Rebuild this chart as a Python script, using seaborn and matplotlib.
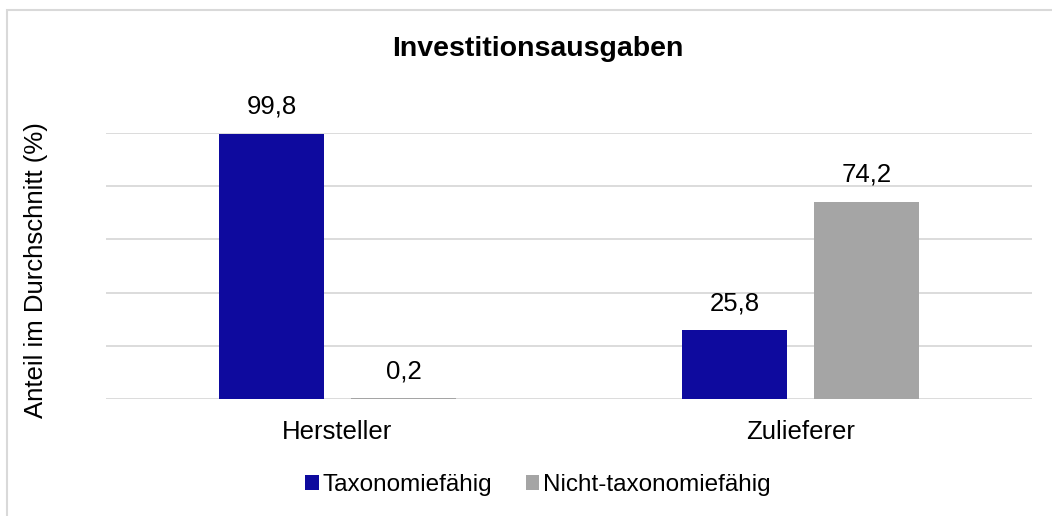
import pandas as pd
import seaborn as sns
import matplotlib.pyplot as plt
from matplotlib.patches import Rectangle

# Daten
gruppen = ["Hersteller", "Hersteller", "Zulieferer", "Zulieferer"]
kategorien = ["Taxonomiefähig", "Nicht-taxonomiefähig", "Taxonomiefähig", "Nicht-taxonomiefähig"]
anteile = [99.8, 0.2, 25.8, 74.2]
farben = {"Taxonomiefähig": "#0E0A9E", "Nicht-taxonomiefähig": "#A5A5A5"}

df = pd.DataFrame({"Gruppe": gruppen, "Kategorie": kategorien, "Anteil": anteile})

sns.set_style("white")
plt.rcParams['font.family'] = ['Liberation Sans', 'DejaVu Sans']
plt.rcParams['text.color'] = 'black'
plt.rcParams['axes.labelcolor'] = 'black'
plt.rcParams['xtick.color'] = 'black'

fig = plt.figure(figsize=(10.52, 5.16), dpi=100)
ax = fig.add_axes([106 / 1052, 117 / 516, 926 / 1052, 266 / 516])

sns.barplot(data=df, x="Gruppe", y="Anteil", hue="Kategorie", palette=farben,
            width=0.57, gap=0.2, saturation=1, linewidth=0, ax=ax, legend=True)

# Werte mit Dezimalkomma
for cont in ax.containers:
    labels = [f"{b.get_height():.1f}".replace(".", ",") for b in cont]
    ax.bar_label(cont, labels=labels, padding=11, fontsize=18.5, color="black")

ax.set_ylim(0, 100)
ax.set_yticks([0, 20, 40, 60, 80, 100])
ax.set_yticklabels([])
ax.grid(axis="y", color="#D9D9D9", linewidth=1.3)
ax.set_axisbelow(True)
for s in ax.spines.values():
    s.set_visible(False)
ax.tick_params(axis="both", length=0)
ax.tick_params(axis="x", labelsize=18.5, pad=15)
ax.set_xlabel("")
ax.set_ylabel("Anteil im Durchschnitt (%)", fontsize=18.5)
ax.yaxis.set_label_coords((48 - 106) / 926, 0.485)

fig.text(538 / 1052, 1 - 49 / 516, "Investitionsausgaben", ha="center", va="center",
         fontsize=20.5, fontweight="bold")

handles, lbls = ax.get_legend_handles_labels()
ax.legend(handles, lbls, loc="center", bbox_to_anchor=(538 / 1052, 1 - 485 / 516),
          bbox_transform=fig.transFigure, ncol=2, frameon=False, fontsize=17.5,
          handlelength=0.55, handleheight=0.55, handletextpad=0.15, columnspacing=1.4)

# Rahmen
fig.patches.append(Rectangle((7 / 1052, -0.1), 1.2, 1 - 10 / 516 + 0.1,
                             transform=fig.transFigure, fill=False,
                             edgecolor="#D9D9D9", linewidth=1.5))

fig.savefig("out.png", dpi=100)
